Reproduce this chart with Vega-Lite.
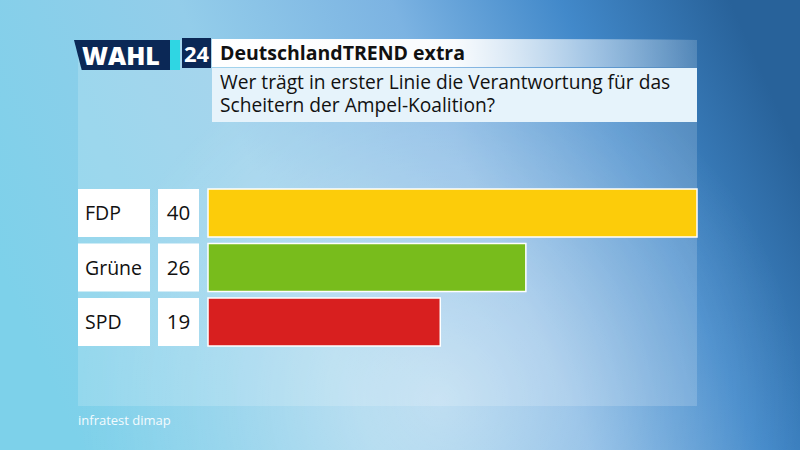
{
  "$schema": "https://vega.github.io/schema/vega-lite/v6.json",
  "width": 800,
  "height": 450,
  "autosize": {"type": "fit", "contains": "padding"},
  "padding": 0,
  "background": "#7fcfe9",
  "config": {"view": {"stroke": null}, "font": "Open Sans"},
  "data": {"values": [
    {"party": "FDP", "value": 40, "color": "#fccc0a"},
    {"party": "Grüne", "value": 26, "color": "#78bc1c"},
    {"party": "SPD", "value": 19, "color": "#d81f1f"}
  ]},
  "layer": [
    {
      "data": {"values": [{}]},
      "mark": {"type": "rect", "color": {"gradient": "linear", "x1": 0, "y1": 0.6, "x2": 1, "y2": 0.35,
        "stops": [
          {"offset": 0, "color": "#7dd1ea"},
          {"offset": 0.35, "color": "#93cdea"},
          {"offset": 0.6, "color": "#7cb3e2"},
          {"offset": 0.8, "color": "#4289ca"},
          {"offset": 1, "color": "#28629a"}
        ]}},
      "encoding": {"x": {"value": 0}, "x2": {"value": 800}, "y": {"value": 0}, "y2": {"value": 450}}
    },
    {
      "data": {"values": [{}]},
      "mark": {"type": "rect", "color": {"gradient": "radial", "x1": 0.55, "y1": 0.72, "r1": 0, "x2": 0.55, "y2": 0.72, "r2": 0.45,
        "stops": [
          {"offset": 0, "color": "rgba(255,255,255,0.45)"},
          {"offset": 0.6, "color": "rgba(255,255,255,0.15)"},
          {"offset": 1, "color": "rgba(255,255,255,0)"}
        ]}},
      "encoding": {"x": {"value": 0}, "x2": {"value": 800}, "y": {"value": 0}, "y2": {"value": 450}}
    },
    {
      "data": {"values": [{}]},
      "mark": {"type": "rect", "color": "#ffffff", "opacity": 0.17},
      "encoding": {"x": {"value": 78}, "x2": {"value": 697}, "y": {"value": 40}, "y2": {"value": 406}}
    },
    {
      "data": {"values": [{}]},
      "mark": {"type": "rect", "color": {"gradient": "linear", "x1": 0, "y1": 0, "x2": 1, "y2": 0,
        "stops": [
          {"offset": 0, "color": "rgba(255,255,255,1)"},
          {"offset": 0.5, "color": "rgba(255,255,255,0.95)"},
          {"offset": 1, "color": "rgba(255,255,255,0)"}
        ]}},
      "encoding": {"x": {"value": 212}, "x2": {"value": 697}, "y": {"value": 39}, "y2": {"value": 67}}
    },
    {
      "data": {"values": [{}]},
      "mark": {"type": "rect", "color": "#e6f3fb"},
      "encoding": {"x": {"value": 212}, "x2": {"value": 697}, "y": {"value": 68}, "y2": {"value": 122}}
    },
    {
      "data": {"values": [{}]},
      "mark": {"type": "rect", "color": "#2fd6e3"},
      "encoding": {"x": {"value": 168}, "x2": {"value": 180}, "y": {"value": 40}, "y2": {"value": 70}}
    },
    {
      "data": {"values": [{}]},
      "mark": {"type": "point", "filled": true, "opacity": 1, "color": "#0b2856", "size": 9216,
        "shape": "M-1,-0.3125L1,-0.3125L1,0.3125L-0.84,0.3125Z"},
      "encoding": {"x": {"value": 122}, "y": {"value": 55}}
    },
    {
      "data": {"values": [{}]},
      "mark": {"type": "rect", "color": "#0b2856"},
      "encoding": {"x": {"value": 182}, "x2": {"value": 211}, "y": {"value": 38}, "y2": {"value": 68}}
    },
    {
      "data": {"values": [{}]},
      "mark": {"type": "text", "font": "Open Sans", "fontWeight": 800, "fontSize": 25, "color": "#ffffff", "align": "left", "baseline": "alphabetic", "text": "WAHL"},
      "encoding": {"x": {"value": 82}, "y": {"value": 65}}
    },
    {
      "data": {"values": [{}]},
      "mark": {"type": "text", "font": "Open Sans", "fontWeight": "bold", "fontSize": 22, "color": "#ffffff", "align": "center", "baseline": "alphabetic", "text": "24"},
      "encoding": {"x": {"value": 196.5}, "y": {"value": 62}}
    },
    {
      "data": {"values": [{}]},
      "mark": {"type": "text", "font": "Open Sans", "fontWeight": "bold", "fontSize": 19.5, "color": "#111111", "align": "left", "baseline": "alphabetic", "text": "DeutschlandTREND extra"},
      "encoding": {"x": {"value": 220}, "y": {"value": 60}}
    },
    {
      "data": {"values": [{}]},
      "mark": {"type": "text", "font": "Open Sans", "fontSize": 19.2, "color": "#111111", "align": "left", "baseline": "alphabetic", "lineHeight": 22.5,
        "text": ["Wer trägt in erster Linie die Verantwortung für das", "Scheitern der Ampel-Koalition?"]},
      "encoding": {"x": {"value": 220}, "y": {"value": 89}}
    },
    {
      "data": {"values": [{}]},
      "mark": {"type": "text", "font": "Open Sans", "fontSize": 13, "color": "#f4fbfe", "align": "left", "baseline": "alphabetic", "text": "infratest dimap"},
      "encoding": {"x": {"value": 78}, "y": {"value": 425}}
    },
    {
      "mark": {"type": "rect", "color": "#ffffff"},
      "encoding": {
        "y": {"field": "party", "type": "nominal", "sort": null,
          "scale": {"type": "band", "range": [185.75, 349.25], "paddingInner": 0.12, "paddingOuter": 0.06},
          "axis": null},
        "x": {"value": 78}, "x2": {"value": 150}}
    },
    {
      "mark": {"type": "rect", "color": "#ffffff"},
      "encoding": {
        "y": {"field": "party", "type": "nominal", "sort": null, "axis": null},
        "x": {"value": 158}, "x2": {"value": 199}}
    },
    {
      "mark": {"type": "text", "font": "Open Sans", "fontSize": 19.5, "color": "#111111", "align": "left", "baseline": "middle", "dy": 1},
      "encoding": {
        "y": {"field": "party", "type": "nominal", "sort": null, "axis": null, "bandPosition": 0.5},
        "x": {"value": 85}, "text": {"field": "party", "type": "nominal"}}
    },
    {
      "mark": {"type": "text", "font": "Open Sans", "fontSize": 20.5, "color": "#111111", "align": "center", "baseline": "middle", "dy": 1},
      "encoding": {
        "y": {"field": "party", "type": "nominal", "sort": null, "axis": null, "bandPosition": 0.5},
        "x": {"value": 178.5}, "text": {"field": "value", "type": "quantitative"}}
    },
    {
      "mark": {"type": "bar", "stroke": "#ffffff", "strokeWidth": 1.5, "opacity": 1},
      "encoding": {
        "y": {"field": "party", "type": "nominal", "sort": null, "axis": null},
        "x": {"field": "value", "type": "quantitative", "scale": {"domain": [-17.015, 48.425], "range": [0, 800], "zero": false, "nice": false}, "axis": null},
        "x2": {"datum": 0},
        "color": {"field": "color", "type": "nominal", "scale": null, "legend": null}
      }
    }
  ]
}
